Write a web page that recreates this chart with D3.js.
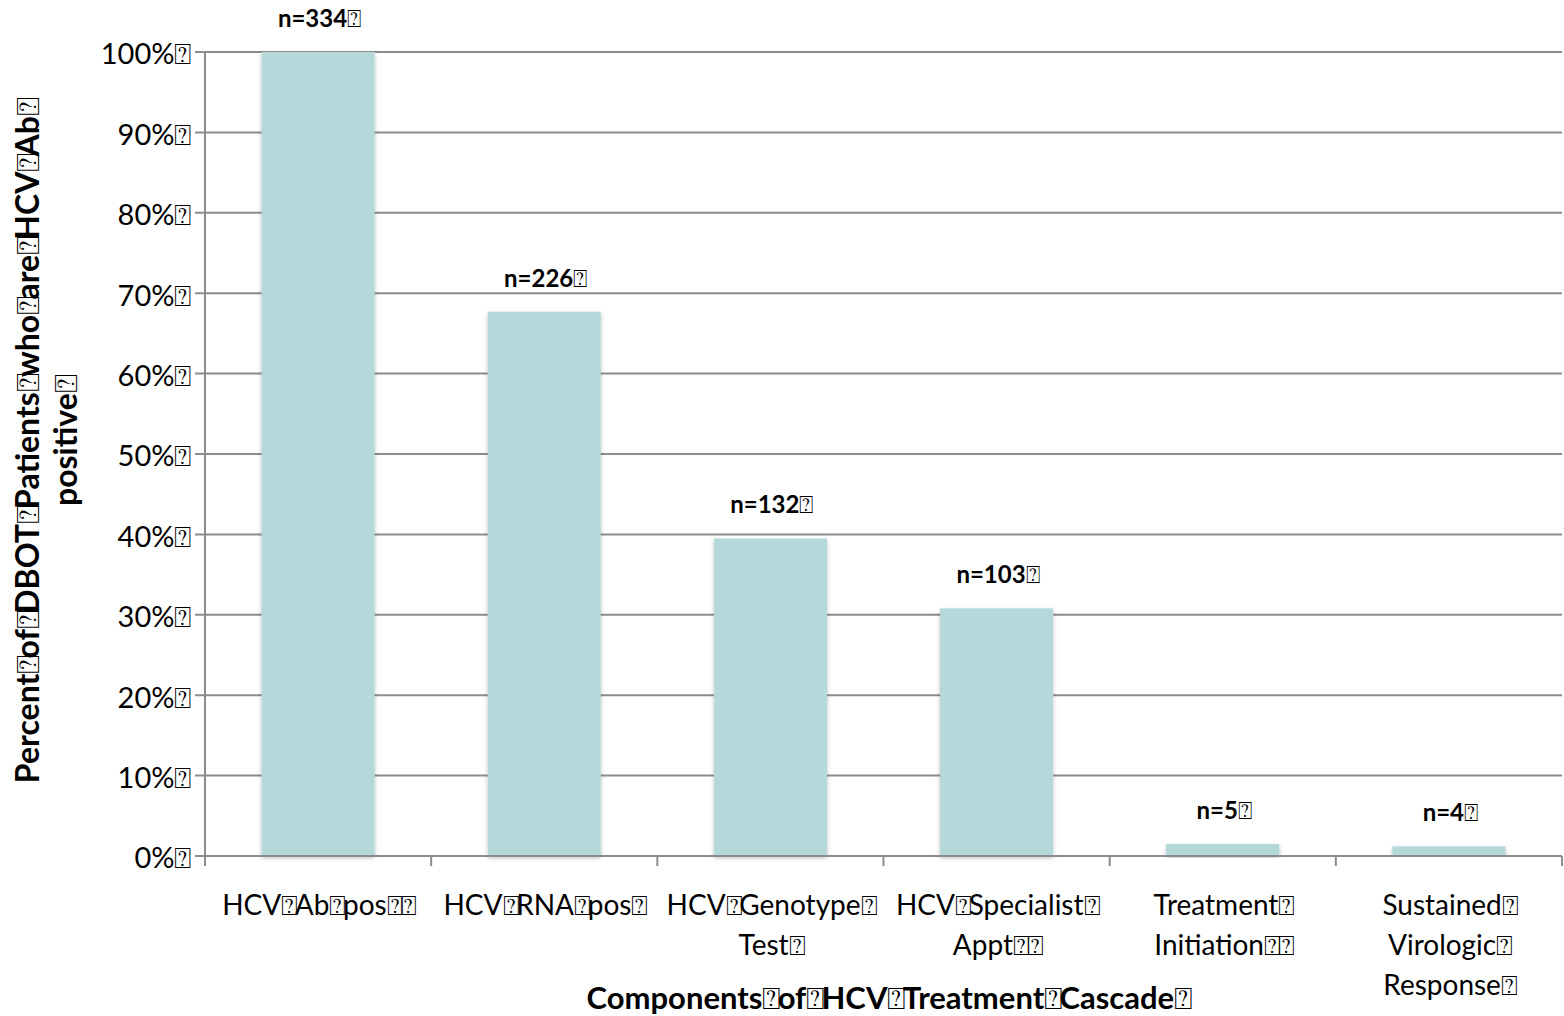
<!DOCTYPE html>
<html><head><meta charset="utf-8">
<script src="https://cdn.jsdelivr.net/npm/d3@7"></script>
<style>body{margin:0;background:#fff}svg{display:block}text{font-family:Lato,"Open Sans",sans-serif;fill:#000}</style>
</head><body><svg id="c" width="1564" height="1016"></svg>
<script>
const B = "\u2370";
const categories = [
  ["HCV"+B+"Ab"+B+"pos"+B+B],
  ["HCV"+B+"RNA"+B+"pos"+B],
  ["HCV"+B+"Genotype"+B, "Test"+B],
  ["HCV"+B+"Specialist"+B, "Appt"+B+B],
  ["Treatment"+B, "Initiation"+B+B],
  ["Sustained"+B, "Virologic"+B, "Response"+B]
];
const percentValues = [100, 67.7, 39.5, 30.8, 1.5, 1.2];
const countLabels = ["n=334"+B, "n=226"+B, "n=132"+B, "n=103"+B, "n=5"+B, "n=4"+B];
const yTicks = [0,10,20,30,40,50,60,70,80,90,100];
const yTickLabels = yTicks.map(v => v + "%" + B);
const xTitle = "Components"+B+"of"+B+"HCV"+B+"Treatment"+B+"Cascade"+B;
const yTitle = ["Percent"+B+"of"+B+"DBOT"+B+"Patients"+B+"who"+B+"are"+B+"HCV"+B+"Ab"+B, "positive"+B];

// write a string into a text selection, drawing the missing-glyph boxes narrow
function fill(sel, str){
  const parts = str.split(/(\u2370)/).filter(s=>s.length);
  parts.forEach(p=>{
    if (p === B) sel.append("tspan").attr("font-size","1em").attr("font-weight","normal").attr("letter-spacing","-0.12em").text(p);
    else sel.append("tspan").text(p);
  });
}

const svg = d3.select("#c");
const L = 205, R = 1562, T = 52, Bt = 856;
const x = d3.scaleBand().domain(d3.range(categories.length)).range([L, R]).paddingInner(0).paddingOuter(0);
const y = d3.scaleLinear().domain([0, 100]).range([Bt, T]);

// gridlines
svg.append("g").selectAll("line").data(yTicks).join("line")
  .attr("x1", L-10).attr("x2", R).attr("y1", d=>y(d)).attr("y2", d=>y(d))
  .attr("stroke", "#8c8c8c").attr("stroke-width", 2);

// y labels
svg.append("g").selectAll("text").data(yTicks).join("text")
  .attr("x", 188).attr("y", d=>y(d)+2).attr("dy", "0.36em").attr("text-anchor","end")
  .attr("font-size", 29).each(function(d,i){ fill(d3.select(this), yTickLabels[i]); });

// bars with shadow
const defs = svg.append("defs");
const f = defs.append("filter").attr("id","sh").attr("x","-10%").attr("y","-10%").attr("width","120%").attr("height","120%");
f.append("feDropShadow").attr("dx",0).attr("dy",2).attr("stdDeviation",2).attr("flood-color","#000").attr("flood-opacity",0.25);
const bw = x.bandwidth()*0.5;
svg.append("g").selectAll("rect").data(percentValues).join("rect")
  .attr("x", (d,i)=>x(i)+x.bandwidth()/2-bw/2).attr("width", bw)
  .attr("y", d=>y(d)).attr("height", d=>Bt-y(d))
  .attr("fill", "#b5d9db").attr("filter","url(#sh)");

// axes lines
svg.append("line").attr("x1",L).attr("x2",L).attr("y1",T).attr("y2",Bt+10).attr("stroke","#8c8c8c").attr("stroke-width",2);
svg.append("line").attr("x1",L-10).attr("x2",R).attr("y1",Bt).attr("y2",Bt).attr("stroke","#8c8c8c").attr("stroke-width",2);
svg.append("g").selectAll("line").data(d3.range(categories.length+1)).join("line")
  .attr("x1", d=>L + d*x.bandwidth()).attr("x2", d=>L + d*x.bandwidth())
  .attr("y1", Bt).attr("y2", Bt+10).attr("stroke","#8c8c8c").attr("stroke-width",2);

// count labels
svg.append("g").selectAll("text").data(percentValues).join("text")
  .attr("x",(d,i)=>x(i)+x.bandwidth()/2).attr("y", d=>y(d)-25)
  .attr("text-anchor","middle").attr("font-size",24).attr("font-weight","bold")
  .each(function(d,i){ fill(d3.select(this), countLabels[i]); });

// category labels
categories.forEach((lines,i)=>{
  lines.forEach((ln,j)=>{
    const t = svg.append("text").attr("text-anchor","middle").attr("font-size",28)
      .attr("x", x(i)+x.bandwidth()/2).attr("y", 915 + j*40);
    fill(t, ln);
  });
});

// x title
fill(svg.append("text").attr("x", 888).attr("y", 1009).attr("text-anchor","middle")
  .attr("font-size",31).attr("font-weight","bold"), xTitle);

// y title
yTitle.forEach((ln,j)=>{
  fill(svg.append("text").attr("transform",`translate(${39+j*38},442) rotate(-90)`)
    .attr("text-anchor","middle").attr("font-size",32).attr("font-weight","bold"), ln);
});
</script></body></html>
